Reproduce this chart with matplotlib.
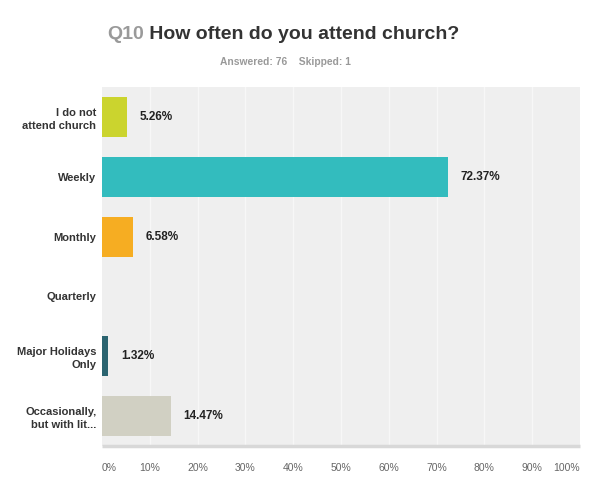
import matplotlib
matplotlib.use("Agg")
import matplotlib.pyplot as plt
import numpy as np

plt.rcParams['font.family'] = ['Liberation Sans', 'DejaVu Sans']

categories = ["I do not\nattend church", "Weekly", "Monthly", "Quarterly",
              "Major Holidays\nOnly", "Occasionally,\nbut with lit..."]
values = [5.26, 72.37, 6.58, 0.0, 1.32, 14.47]
value_labels = ["5.26%", "72.37%", "6.58%", None, "1.32%", "14.47%"]
colors = ["#CBD42E", "#33BCBE", "#F6AD22", "#8E7DB8", "#2B6470", "#D1D0C3"]
ticks = list(range(0, 101, 10))
tick_labels = [f"{t}%" for t in ticks]

W, H = 589, 486
fig = plt.figure(figsize=(W / 100, H / 100), dpi=100)
fig.patch.set_facecolor("white")

ax = fig.add_axes([102 / W, 1 - 446 / H, (580 - 102) / W, (446 - 87) / H])
ax.set_facecolor("#EFEFEF")

y = np.arange(len(categories))
ax.set_xlim(0, 100)
ax.set_ylim(len(categories) - 0.5, -0.5)

for t in ticks[1:-1]:
    ax.axvline(t, color="#F7F7F7", lw=1.0, zorder=1)

ax.barh(y, values, height=0.67, color=colors, zorder=2)

for yi, v, lab in zip(y, values, value_labels):
    if lab:
        ax.annotate(lab, xy=(v, yi), xytext=(9, 0), textcoords="offset points",
                    va="center", ha="left", fontsize=8.5, fontweight="bold",
                    color="#222222")

ax.set_yticks(y)
ax.set_yticklabels(categories, fontsize=8, fontweight="bold", color="#333333",
                   linespacing=1.35)
ax.set_xticks(ticks)
ax.set_xticklabels(tick_labels, fontsize=7.5, color="#666666")
xl = ax.get_xticklabels()
xl[0].set_ha("left")
xl[-1].set_ha("right")
ax.tick_params(axis="both", length=0)
ax.tick_params(axis="y", pad=4)
ax.tick_params(axis="x", pad=12)
for s in ["top", "right", "left"]:
    ax.spines[s].set_visible(False)
ax.spines["bottom"].set_color("#D8D8D8")
ax.spines["bottom"].set_linewidth(2.5)
ax.spines["bottom"].set_capstyle("butt")

t1 = fig.text(107 / W, 1 - 39 / H, "Q10", fontsize=14, fontweight="bold",
              color="#9A9A9A", ha="left", va="baseline")
fig.canvas.draw()
ax.annotate(" How often do you attend church?", xy=(1, 0), xycoords=t1,
            fontsize=14, fontweight="bold", color="#333333",
            ha="left", va="bottom", annotation_clip=False)
fig.text(285 / W, 1 - 62 / H, "Answered: 76    Skipped: 1", fontsize=7.4,
         fontweight="bold", color="#999999", ha="center", va="center")

fig.savefig("out.png", dpi=100, facecolor="white")
